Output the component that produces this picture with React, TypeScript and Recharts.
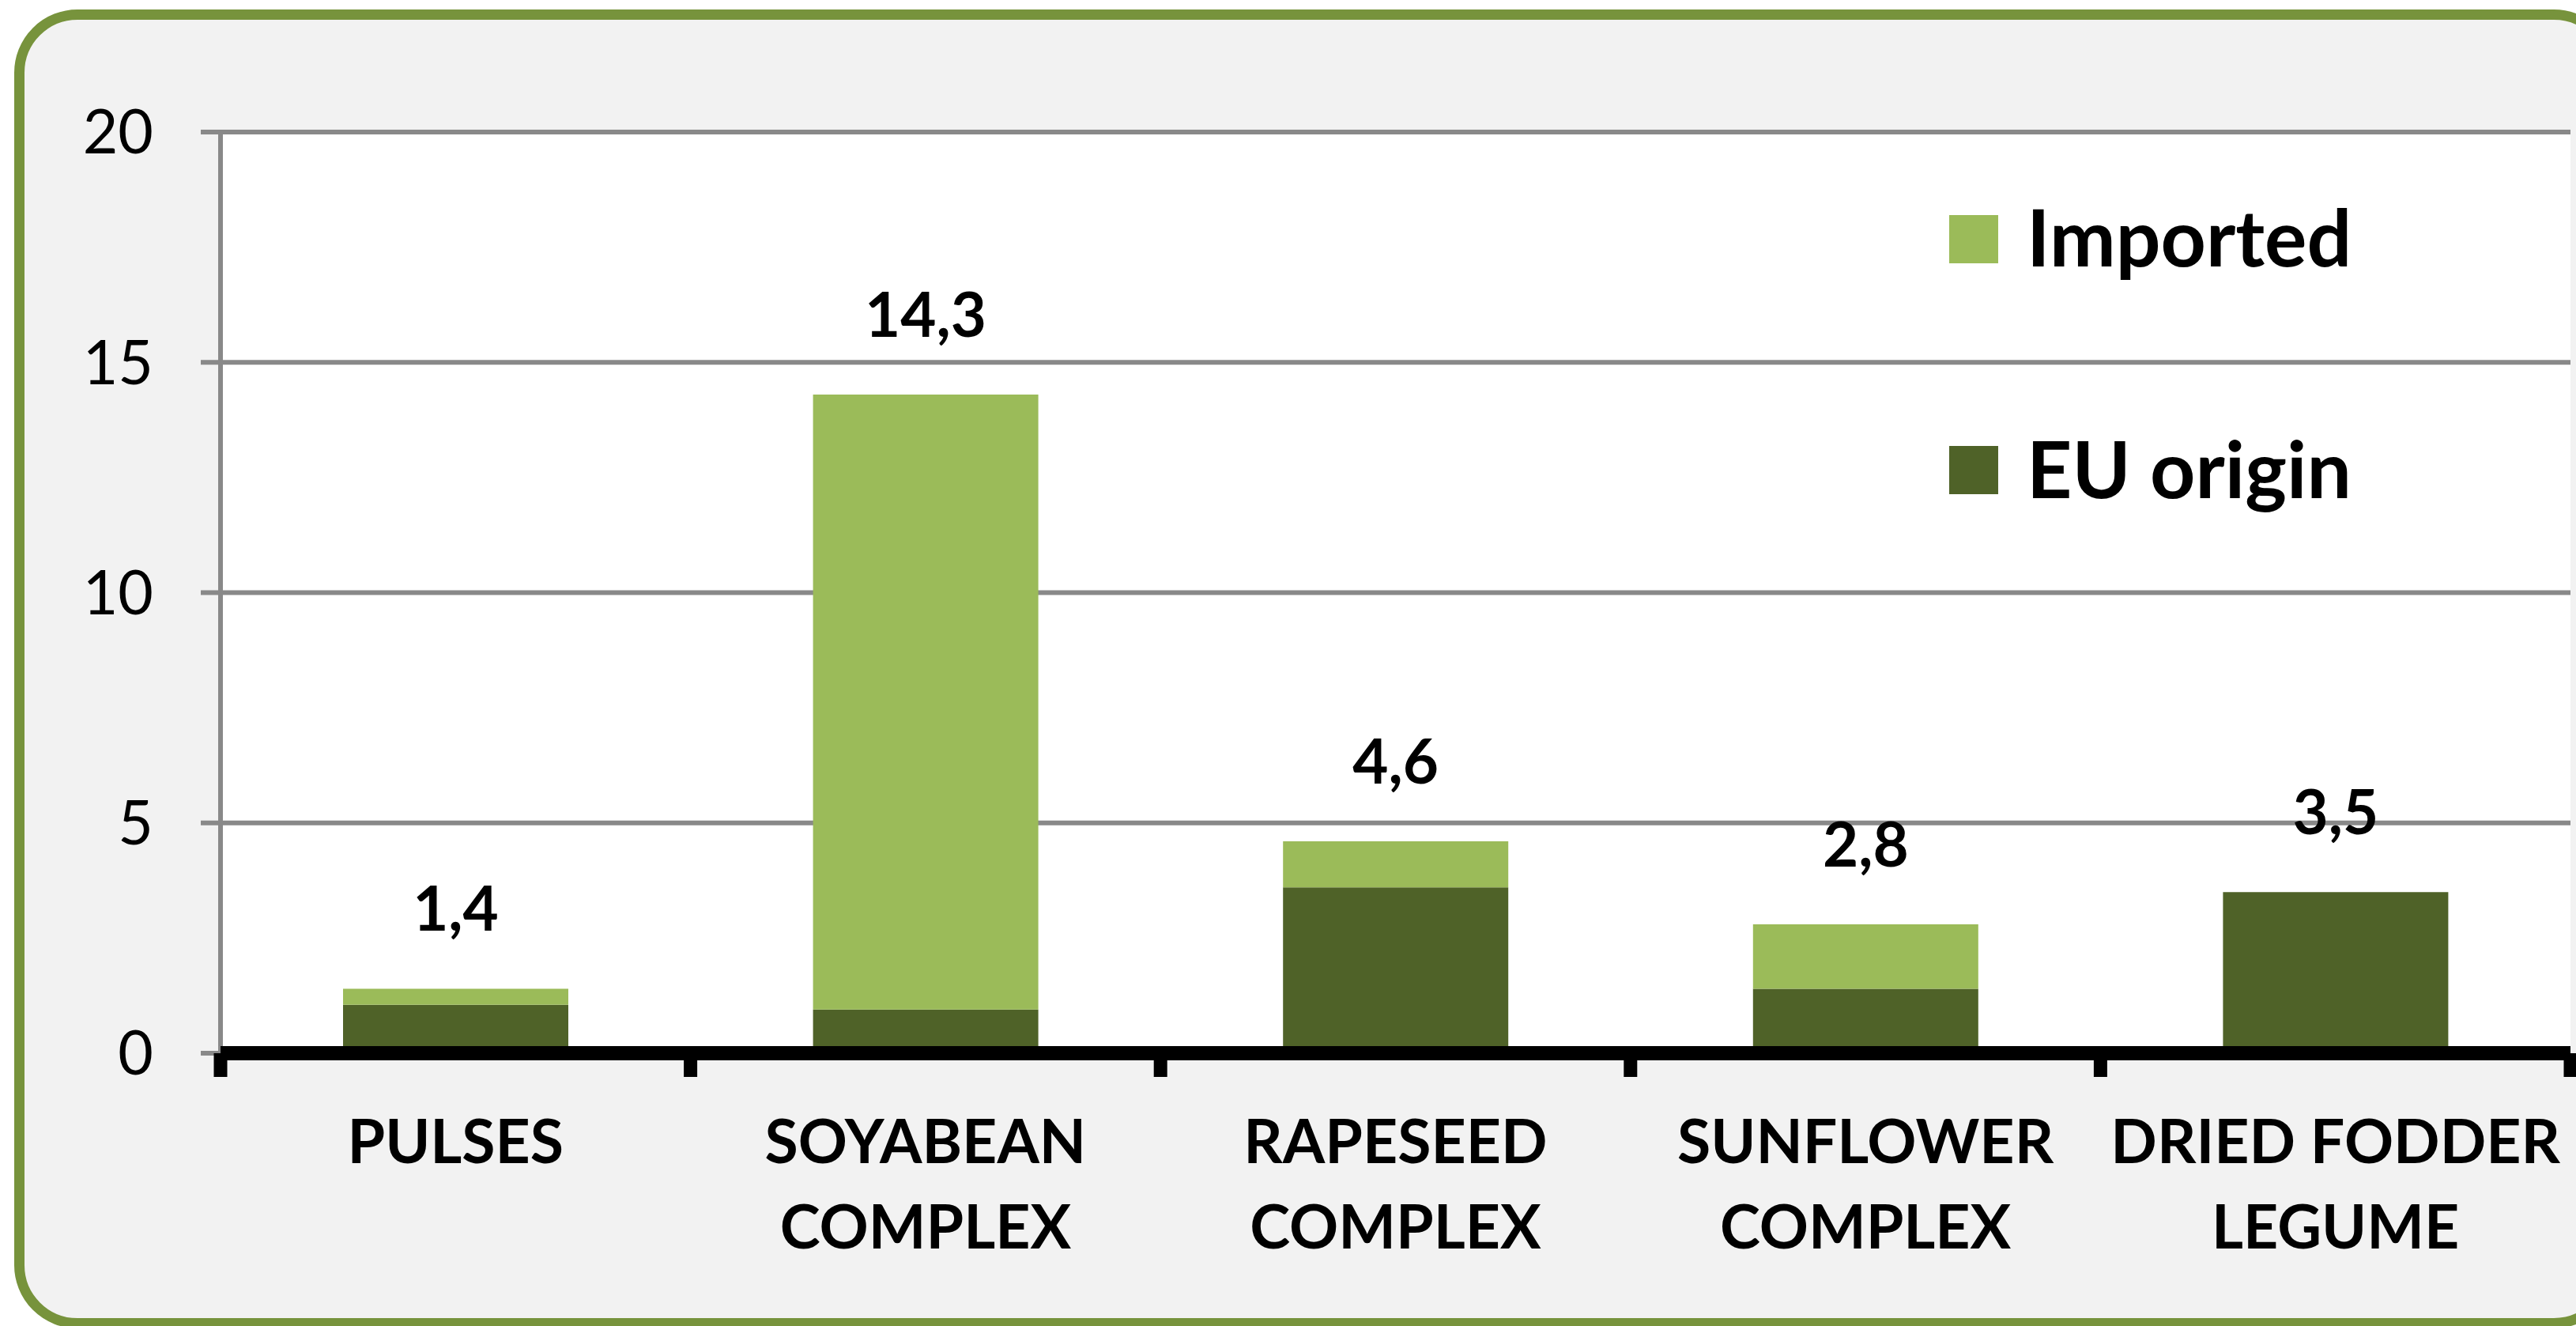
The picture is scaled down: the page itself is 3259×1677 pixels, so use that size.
import React from 'react';
import { BarChart, Bar, XAxis, YAxis, CartesianGrid, Legend, LabelList } from 'recharts';

const categories = ['PULSES', 'SOYABEAN\nCOMPLEX', 'RAPESEED\nCOMPLEX', 'SUNFLOWER\nCOMPLEX', 'DRIED FODDER\nLEGUME'];
const euOrigin = [1.05, 0.95, 3.6, 1.4, 3.5];
const imported = [0.35, 13.35, 1.0, 1.4, 0];
const yTicks = [0, 5, 10, 15, 20];

const W = 3259;
const H = 1677;
const FONT = "Lato, 'Open Sans', sans-serif";
const LIGHT = '#9BBB59';
const DARK = '#4F6228';
const GRID = '#898989';
const MARGIN = { top: 167, right: 7, bottom: 0, left: 0 };
const Y_AXIS_W = 279;
const X_AXIS_H = 345;
const BAND = (W - MARGIN.left - Y_AXIS_W - MARGIN.right) / categories.length;

const data = categories.map((name, i) => {
  const total = euOrigin[i] + imported[i];
  return {
    name,
    eu: euOrigin[i],
    imp: imported[i],
    labelOnImp: imported[i] > 0 ? total : null,
    labelOnEu: imported[i] > 0 ? null : total,
  };
});

const XTick = (props: any) => {
  const { x, y, payload, index } = props;
  const lines = String(payload.value).split('\n');
  const last = index === categories.length - 1;
  return (
    <g>
      <line x1={x - BAND / 2} x2={x - BAND / 2} y1={y} y2={y + 30} stroke="#000" strokeWidth={17} />
      {last && <line x1={x + BAND / 2} x2={x + BAND / 2} y1={y} y2={y + 30} stroke="#000" strokeWidth={17} />}
      <text textAnchor="middle" fontFamily={FONT} fontSize={77} fontWeight={700} fill="#000">
        {lines.map((l, i) => (
          <tspan key={i} x={x} y={y + 139 + i * 108}>
            {l}
          </tspan>
        ))}
      </text>
    </g>
  );
};

const TotalLabel = (props: any) => {
  if (props.value === null || props.value === undefined || props.value === '') return null;
  const vb = props.viewBox || {};
  const x = props.x ?? vb.x;
  const y = props.y ?? vb.y;
  const width = props.width ?? vb.width;
  const v = Number(props.value);
  return (
    <text
      x={x + width / 2}
      y={y - 73}
      textAnchor="middle"
      fontFamily={FONT}
      fontSize={78}
      fontWeight={700}
      fill="#000"
    >
      {v.toFixed(1).replace('.', ',')}
    </text>
  );
};

const LegendBox = (props: any) => {
  const payload = [...(props.payload || [])].reverse();
  return (
    <svg width={780} height={440} style={{ display: 'block', overflow: 'visible' }}>
      {payload.map((p: any, i: number) => (
        <g key={p.value}>
          <rect x={16} y={22 + i * 292} width={62} height={61} fill={p.color} />
          <text x={114} y={87 + i * 293} fontFamily={FONT} fontSize={100} fontWeight={700} fill="#000">
            {p.value}
          </text>
        </g>
      ))}
    </svg>
  );
};

export default function App() {
  return (
    <div
      style={{
        position: 'fixed',
        left: 0,
        top: 0,
        width: W,
        height: H,
        overflow: 'hidden',
        background: '#fff',
      }}
    >
      <div
        style={{
          position: 'absolute',
          left: 18,
          top: 12,
          width: 3293,
          height: 1668,
          boxSizing: 'border-box',
          border: '13px solid #77933C',
          borderRadius: 80,
          background: '#F2F2F2',
        }}
      />
      <div style={{ position: 'absolute', left: 0, top: 0 }}>
        <BarChart width={W} height={H} data={data} margin={MARGIN}>
          <CartesianGrid vertical={false} stroke={GRID} strokeWidth={6} fill="#fff" fillOpacity={1} />
          <YAxis
            domain={[0, 20]}
            ticks={yTicks}
            width={Y_AXIS_W}
            axisLine={{ stroke: GRID, strokeWidth: 6 }}
            tickLine={{ stroke: GRID, strokeWidth: 6 }}
            tickSize={25}
            tickMargin={60}
            tick={{ fill: '#000', fontSize: 77, fontFamily: FONT }}
            interval={0}
          />
          <XAxis
            dataKey="name"
            height={X_AXIS_H}
            axisLine={{ stroke: '#000', strokeWidth: 18 }}
            tickLine={false}
            tickSize={0}
            tickMargin={0}
            interval={0}
            tick={<XTick />}
          />
          <Legend
            layout="vertical"
            align="center"
            verticalAlign="middle"
            content={<LegendBox />}
            wrapperStyle={{ position: 'absolute', left: 2450, top: 250, width: 780, height: 440 }}
          />
          <Bar dataKey="eu" name="EU origin" stackId="a" fill={DARK} barSize={285} isAnimationActive={false}>
            <LabelList dataKey="labelOnEu" content={<TotalLabel />} />
          </Bar>
          <Bar dataKey="imp" name="Imported" stackId="a" fill={LIGHT} barSize={285} isAnimationActive={false}>
            <LabelList dataKey="labelOnImp" content={<TotalLabel />} />
          </Bar>
        </BarChart>
      </div>
    </div>
  );
}
